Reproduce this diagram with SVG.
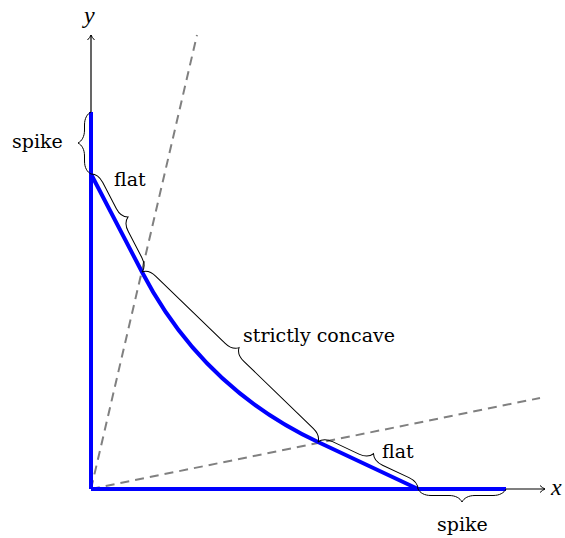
<svg xmlns="http://www.w3.org/2000/svg" width="565" height="538" viewBox="0 0 565 538">
<style>
.axis{stroke:#000;stroke-width:1.2;fill:none}
.dash{stroke:#808080;stroke-width:2;stroke-dasharray:9 6;fill:none}
.blue{stroke:#0000ff;stroke-width:4;fill:none;stroke-linejoin:round}
.brace{stroke:#000;stroke-width:1;fill:none}
</style>
<defs>
<marker id="arr" markerWidth="10" markerHeight="10" refX="7" refY="5" orient="auto" markerUnits="userSpaceOnUse">
<path d="M2,1.5 Q4.5,4 7,5 Q4.5,6 2,8.5" fill="none" stroke="#000" stroke-width="1"/>
</marker>
<path id="b110" d="M0,0 C1.95,-3.9 6.5,-6.5 13,-6.5 L42.25,-6.5 C48.75,-6.5 53.3,-9.1 55.25,-13 C57.2,-9.1 61.75,-6.5 68.25,-6.5 L97.5,-6.5 C104,-6.5 108.55,-3.9 110.5,0"/>
</defs>
<g id="axes">
<line class="axis" x1="91" y1="489" x2="91" y2="35" marker-end="url(#arr)"/>
<line class="axis" x1="91" y1="489" x2="545" y2="489" marker-end="url(#arr)"/>
<text font-family="'Liberation Serif', serif" font-style="italic" font-size="24" x="84" y="23">y</text>
<text font-family="'Liberation Serif', serif" font-style="italic" font-size="24" x="551" y="495">x</text>
</g>
<g id="rays">
<line class="dash" x1="91" y1="489" x2="197" y2="35"/>
<line class="dash" x1="91" y1="489" x2="540" y2="398"/>
</g>
<g id="curve">
<path class="blue" d="M91,489 L91,112"/>
<path class="blue" d="M91,489 L506,489"/>
<path class="blue" d="M91,174 L142,272 Q202,387.5 318,442 L418,489"/>
</g>
<g id="braces">
<path class="brace" transform="translate(91,174) rotate(-90)" d="M0,0 C1.95,-3.9 6.5,-6.5 13,-6.5 L18,-6.5 C24.5,-6.5 29.05,-9.1 31,-13 C32.95,-9.1 37.5,-6.5 44,-6.5 L49,-6.5 C55.5,-6.5 60.05,-3.9 62,0"/>
<use class="brace" href="#b110" transform="translate(91,174) rotate(62.5)"/>
<path class="brace" transform="translate(142,272) rotate(44)" d="M0,0 C1.95,-3.9 6.5,-6.5 13,-6.5 L109.35,-6.5 C115.85,-6.5 120.4,-9.1 122.35,-13 C124.3,-9.1 128.85,-6.5 135.35,-6.5 L231.7,-6.5 C238.2,-6.5 242.75,-3.9 244.7,0"/>
<use class="brace" href="#b110" transform="translate(318,442) rotate(25.2)"/>
<path class="brace" transform="translate(506,489) rotate(180)" d="M0,0 C1.95,-3.9 6.5,-6.5 13,-6.5 L31,-6.5 C37.5,-6.5 42.05,-9.1 44,-13 C45.95,-9.1 50.5,-6.5 57,-6.5 L75,-6.5 C81.5,-6.5 86.05,-3.9 88,0"/>
</g>
<g id="labels">
<text font-family="'DejaVu Serif', serif" font-size="19" x="12" y="148">spike</text>
<text font-family="'DejaVu Serif', serif" font-size="19" x="114" y="186">flat</text>
<text font-family="'DejaVu Serif', serif" font-size="19" x="243" y="342">strictly concave</text>
<text font-family="'DejaVu Serif', serif" font-size="19" x="382" y="458">flat</text>
<text font-family="'DejaVu Serif', serif" font-size="19" x="437" y="531">spike</text>
</g>
</svg>
